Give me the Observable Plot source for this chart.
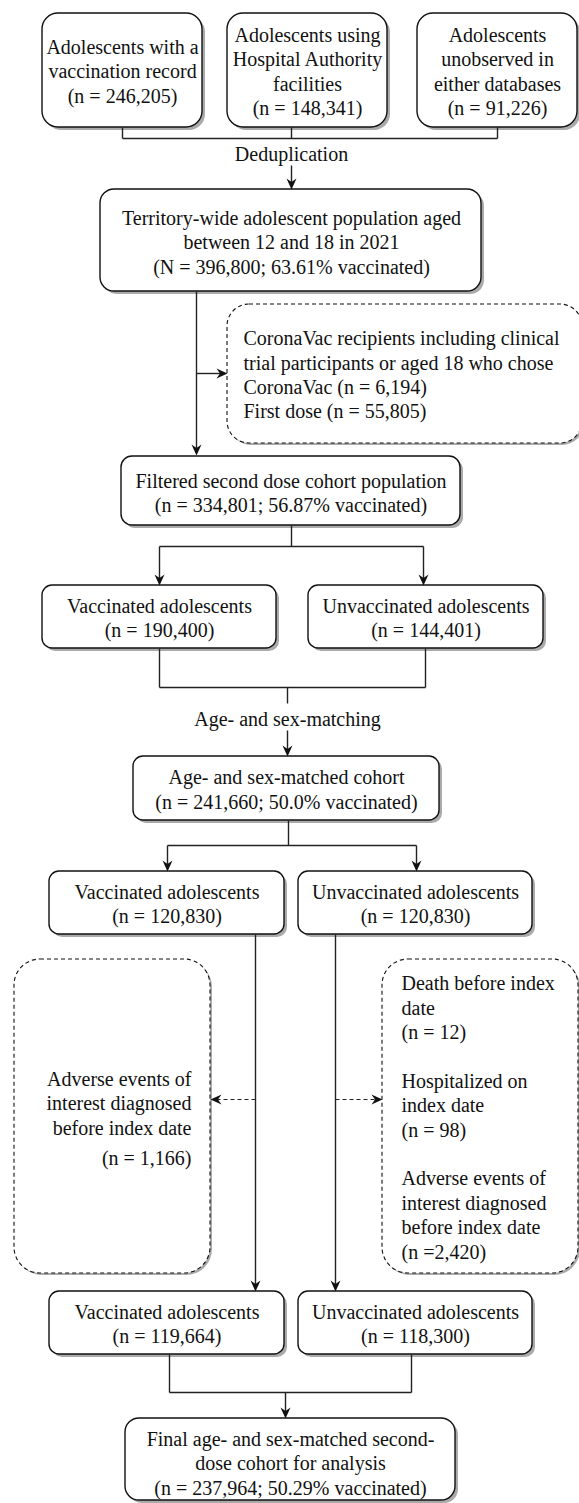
<!DOCTYPE html>
<html><head><meta charset="utf-8">
<script src="https://cdn.jsdelivr.net/npm/d3@7"></script>
<script src="https://cdn.jsdelivr.net/npm/@observablehq/plot@0.6"></script>
<style>html,body{margin:0;padding:0;background:#fff;} #chart svg{display:block;}</style>
</head><body><div id="chart"></div>
<script>
// ---------- data (labels and counts) ----------
const sourceNames = ["Adolescents with a\nvaccination record", "Adolescents using\nHospital Authority\nfacilities", "Adolescents\nunobserved in\neither databases"];
const sourceCounts = [246205, 148341, 91226];
const stepLabels = ["Deduplication", "Age- and sex-matching"];
const stageNames = ["Territory-wide adolescent population aged\nbetween 12 and 18 in 2021", "Filtered second dose cohort population", "Age- and sex-matched cohort", "Final age- and sex-matched second-\ndose cohort for analysis"];
const stageSymbols = ["N", "n", "n", "n"];
const stageCounts = [396800, 334801, 241660, 237964];
const stagePercents = ["63.61", "56.87", "50.0", "50.29"];
const armNames = ["Vaccinated adolescents", "Unvaccinated adolescents"];
const armCountsSplit = [190400, 144401];
const armCountsMatched = [120830, 120830];
const armCountsFinal = [119664, 118300];
const firstExclusionNames = ["CoronaVac recipients including clinical\ntrial participants or aged 18 who chose\nCoronaVac", "First dose"];
const firstExclusionCounts = [6194, 55805];
const vaccExclusionNames = ["Adverse events of\ninterest diagnosed\nbefore index date"];
const vaccExclusionCounts = [1166];
const unvaccExclusionNames = ["Death before index\ndate", "Hospitalized on\nindex date", "Adverse events of\ninterest diagnosed\nbefore index date"];
const unvaccExclusionCounts = [12, 98, 2420];

const fmt = d3.format(",");
const nEq = (c, s = "n", sp = " ") => `(${s} =${sp}${fmt(c)})`;
const stageText = i => `${stageNames[i]}\n(${stageSymbols[i]} = ${fmt(stageCounts[i])}; ${stagePercents[i]}% vaccinated)`;
const armText = (i, counts) => `${armNames[i]}\n${nEq(counts[i])}`;

// ---------- layout (diagram coordinates) ----------
const boxes = [
  {id: "src0", x1: 42, x2: 202, y1: 13, y2: 127, rx: 16},
  {id: "src1", x1: 227, x2: 387, y1: 13, y2: 127, rx: 16},
  {id: "src2", x1: 417, x2: 577, y1: 13, y2: 127, rx: 16},
  {id: "pop", x1: 100, x2: 481, y1: 189, y2: 291, rx: 14},
  {id: "ex0", x1: 227, x2: 582, y1: 304, y2: 443, rx: 22, dashed: true},
  {id: "filt", x1: 121, x2: 460, y1: 456, y2: 525, rx: 11},
  {id: "v1", x1: 42, x2: 276, y1: 585, y2: 648, rx: 10},
  {id: "u1", x1: 308, x2: 543, y1: 585, y2: 648, rx: 10},
  {id: "match", x1: 133, x2: 439, y1: 756, y2: 820, rx: 10},
  {id: "v2", x1: 49, x2: 284, y1: 871, y2: 934, rx: 10},
  {id: "u2", x1: 298, x2: 532, y1: 871, y2: 934, rx: 10},
  {id: "exL", x1: 14, x2: 210, y1: 959, y2: 1273, rx: 26, dashed: true},
  {id: "exR", x1: 382, x2: 578, y1: 959, y2: 1273, rx: 26, dashed: true},
  {id: "v3", x1: 49, x2: 284, y1: 1291, y2: 1354, rx: 10},
  {id: "u3", x1: 298, x2: 532, y1: 1291, y2: 1354, rx: 10},
  {id: "final", x1: 125, x2: 455, y1: 1418, y2: 1500, rx: 14}
];
const byId = Object.fromEntries(boxes.map(b => [b.id, b]));
const cx = id => (byId[id].x1 + byId[id].x2) / 2;
const cy = id => (byId[id].y1 + byId[id].y2) / 2;

const texts = [
  {x: cx("src0"), y: cy("src0"), anchor: "middle", text: `${sourceNames[0]}\n${nEq(sourceCounts[0])}`},
  {x: cx("src1"), y: cy("src1"), anchor: "middle", text: `${sourceNames[1]}\n${nEq(sourceCounts[1])}`},
  {x: cx("src2"), y: cy("src2"), anchor: "middle", text: `${sourceNames[2]}\n${nEq(sourceCounts[2])}`},
  {x: 291, y: 153, anchor: "middle", text: stepLabels[0]},
  {x: 291, y: 241, anchor: "middle", text: stageText(0)},
  {x: 243, y: cy("ex0"), anchor: "start", text: firstExclusionNames.map((d, i) => `${d} ${nEq(firstExclusionCounts[i])}`).join("\n")},
  {x: cx("filt"), y: 491.5, anchor: "middle", text: stageText(1)},
  {x: cx("v1"), y: cy("v1"), anchor: "middle", text: armText(0, armCountsSplit)},
  {x: cx("u1"), y: cy("u1"), anchor: "middle", text: armText(1, armCountsSplit)},
  {x: 287, y: 718, anchor: "middle", text: stepLabels[1]},
  {x: cx("match"), y: cy("match"), anchor: "middle", text: stageText(2)},
  {x: cx("v2"), y: cy("v2"), anchor: "middle", text: armText(0, armCountsMatched)},
  {x: cx("u2"), y: cy("u2"), anchor: "middle", text: armText(1, armCountsMatched)},
  {x: 191, y: 1102, anchor: "end", text: vaccExclusionNames[0]},
  {x: 191, y: 1157, anchor: "end", text: nEq(vaccExclusionCounts[0])},
  {x: 401, y: cy("exR"), anchor: "start", text: unvaccExclusionNames.map((d, i) => `${d}\n${nEq(unvaccExclusionCounts[i], "n", i === 2 ? "" : " ")}`).join("\n\n")},
  {x: cx("v3"), y: cy("v3"), anchor: "middle", text: armText(0, armCountsFinal)},
  {x: cx("u3"), y: cy("u3"), anchor: "middle", text: armText(1, armCountsFinal)},
  {x: cx("final"), y: 1462, anchor: "middle", text: stageText(3)}
];

const solidLinks = [
  [122, 127, 122, 138], [291, 127, 291, 138], [497, 127, 497, 138], [122, 138, 497, 138],
  [291, 165, 291, 185],
  [196, 291, 196, 451], [196, 373, 223, 373],
  [291, 525, 291, 546], [159, 546, 423, 546], [159, 546, 159, 581], [423, 546, 423, 581],
  [159, 648, 159, 687], [425, 648, 425, 687], [159, 687, 425, 687], [287, 687, 287, 703],
  [287, 730, 287, 752],
  [288, 820, 288, 845], [167, 845, 416, 845], [167, 845, 167, 867], [416, 845, 416, 867],
  [255, 934, 255, 1287], [335, 934, 335, 1287],
  [169, 1354, 169, 1392], [411, 1354, 411, 1392], [169, 1392, 411, 1392], [285, 1392, 285, 1414]
].map(([x1, y1, x2, y2]) => ({x1, y1, x2, y2}));
const dashedLinks = [[255, 1099, 214, 1099], [335, 1099, 378, 1099]].map(([x1, y1, x2, y2]) => ({x1, y1, x2, y2}));
const arrowHeads = [
  {x: 291, y: 189, dir: "down"}, {x: 196, y: 455, dir: "down"}, {x: 227, y: 373, dir: "right"},
  {x: 159, y: 585, dir: "down"}, {x: 423, y: 585, dir: "down"}, {x: 287, y: 756, dir: "down"},
  {x: 167, y: 871, dir: "down"}, {x: 416, y: 871, dir: "down"},
  {x: 255, y: 1291, dir: "down"}, {x: 335, y: 1291, dir: "down"},
  {x: 285, y: 1418, dir: "down"},
  {x: 210, y: 1099, dir: "left"}, {x: 382, y: 1099, dir: "right"}
];

// arrowhead symbols (tip at origin), draw.io "classic" style
const L = 11, W = 5, N = 0.68;
const headDown = {draw(c) { c.moveTo(0, 0); c.lineTo(-W, -L); c.lineTo(0, -L * N); c.lineTo(W, -L); c.closePath(); }};
const headRight = {draw(c) { c.moveTo(0, 0); c.lineTo(-L, -W); c.lineTo(-L * N, 0); c.lineTo(-L, W); c.closePath(); }};
const headLeft = {draw(c) { c.moveTo(0, 0); c.lineTo(L, -W); c.lineTo(L * N, 0); c.lineTo(L, W); c.closePath(); }};

const ink = "#111";
const lineInk = "#222";
const font = "Liberation Serif, Times New Roman, serif";

const rectMarks = [];
for (const b of boxes) {
  rectMarks.push(Plot.rect([b], {x1: "x1", x2: "x2", y1: "y1", y2: "y2", rx: b.rx, fill: "#aaaaaa", dx: b.dashed ? 2 : 3, dy: b.dashed ? 2 : 3}));
}
for (const b of boxes) {
  rectMarks.push(Plot.rect([b], {x1: "x1", x2: "x2", y1: "y1", y2: "y2", rx: b.rx, fill: "white", stroke: ink, strokeWidth: b.dashed ? 1.1 : 1.4, strokeDasharray: b.dashed ? "4,3" : null}));
}

const chart = Plot.plot({
  width: 579,
  height: 1503,
  margin: 0,
  style: {background: "white", overflow: "visible"},
  x: {domain: [0, 579], range: [0, 579], axis: null},
  y: {domain: [0, 1503], range: [0, 1503], axis: null},
  marks: [
    ...rectMarks,
    Plot.link(solidLinks, {x1: "x1", y1: "y1", x2: "x2", y2: "y2", stroke: lineInk, strokeWidth: 1.4}),
    Plot.link(dashedLinks, {x1: "x1", y1: "y1", x2: "x2", y2: "y2", stroke: lineInk, strokeWidth: 1.2, strokeDasharray: "4,3"}),
    Plot.dot(arrowHeads.filter(d => d.dir === "down"), {x: "x", y: "y", symbol: headDown, r: 5, fill: ink, stroke: "none"}),
    Plot.dot(arrowHeads.filter(d => d.dir === "right"), {x: "x", y: "y", symbol: headRight, r: 5, fill: ink, stroke: "none"}),
    Plot.dot(arrowHeads.filter(d => d.dir === "left"), {x: "x", y: "y", symbol: headLeft, r: 5, fill: ink, stroke: "none"}),
    ...["start", "middle", "end"].map(a => Plot.text(texts.filter(t => t.anchor === a), {
      x: "x", y: "y", text: "text", textAnchor: a, lineAnchor: "middle", lineHeight: 1.22,
      fontSize: 20, fontFamily: font, fill: ink
    }))
  ]
});
document.getElementById("chart").appendChild(chart);
</script></body></html>
